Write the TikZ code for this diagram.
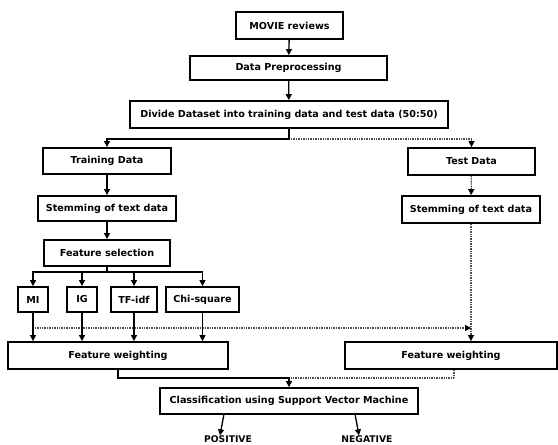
\documentclass[tikz,border=0pt]{standalone}
\usepackage{fontspec}
\setmainfont{DejaVu Sans}
\usetikzlibrary{arrows.meta}
\begin{document}
\begin{tikzpicture}[x=1pt,y=-1pt,
  box/.style={draw=black,line width=1.8pt,fill=white,inner sep=0pt,font=\bfseries\fontsize{9.6}{11}\selectfont},
  lbl/.style={inner sep=0pt,font=\bfseries\fontsize{9.2}{11}\selectfont},
  arr/.style={line width=1.3pt,-{Triangle[length=6pt,width=6pt]}},
  ln/.style={line width=1.3pt},
  dsh/.style={line width=1.3pt,draw=black!70,dash pattern=on 1pt off 0.7pt},
  darr/.style={dsh,-{Triangle[length=6pt,width=6pt,color=black,fill=black]}}]
\useasboundingbox (0,0) rectangle (558,445);
\node[box,minimum width=107,minimum height=27] (movie) at (289.5,25.5) {MOVIE reviews};
\node[box,minimum width=197,minimum height=24] (prep) at (288.5,68) {Data Preprocessing};
\node[box,minimum width=318,minimum height=27] (divide) at (289,114.5) {Divide Dataset into training data and test data (50:50)};
\node[box,minimum width=128,minimum height=26] (train) at (107,161) {Training Data};
\node[box,minimum width=127,minimum height=27] (test) at (471.5,161.5) {Test Data};
\node[box,minimum width=138,minimum height=25] (stemL) at (107,208.5) {Stemming of text data};
\node[box,minimum width=138,minimum height=27] (stemR) at (471,209.5) {Stemming of text data};
\node[box,minimum width=126,minimum height=26] (fsel) at (107,253) {Feature selection};
\node[box,minimum width=30,minimum height=25] (mi) at (33,299.5) {MI};
\node[box,minimum width=30,minimum height=25] (ig) at (82,299.5) {IG};
\node[box,minimum width=46,minimum height=25] (tf) at (134,299.5) {TF-idf};
\node[box,minimum width=73,minimum height=25] (chi) at (202.5,299.5) {Chi-square};
\node[box,minimum width=220,minimum height=27] (fwl) at (118,355.5) {Feature weighting};
\node[box,minimum width=212,minimum height=27] (fwr) at (451,355.5) {Feature weighting};
\node[box,minimum width=258,minimum height=26] (cls) at (289,401) {Classification using Support Vector Machine};
\node[lbl] (pos) at (228,439) {POSITIVE};
\node[lbl] (neg) at (367,439) {NEGATIVE};
\coordinate (split) at (289,139);
\coordinate (branch) at (107,272);
\coordinate (join) at (289,378);
% top chain
\draw[arr] (movie) -- (prep);
\draw[arr] (prep) -- (divide);
\draw[darr] (divide.south) -- (split) -| (test.north);
\draw[arr] (divide.south) -- (split) -| (train.north);
\draw[arr] (train) -- (stemL);
\draw[arr] (stemL) -- (fsel);
\draw[ln] (fsel.south) -- (branch);
\draw[arr] (branch) -| (mi.north);
\draw[arr] (branch) -| (ig.north);
\draw[arr] (branch) -| (tf.north);
\draw[arr] (branch) -| (chi.north);
% dashed right column
\draw[darr] (test) -- (stemR);
\draw[darr] (stemR.south) -- (stemR.south |- fwr.north);
\draw[darr] (mi.south |- 0,328) ++(2,0) coordinate (dstart) -- (stemR.south |- dstart);
% to feature weighting
\draw[arr] (mi.south) -- (mi.south |- fwl.north);
\draw[arr] (ig.south) -- (ig.south |- fwl.north);
\draw[arr] (tf.south) -- (tf.south |- fwl.north);
\draw[arr] (chi.south) -- (chi.south |- fwl.north);
% to classification
\draw[dsh] (fwr.south -| 454,0) |- (join);
\draw[arr] (fwl.south) |- (join) -- (cls.north);
\draw[arr] (224,414) -- (pos.north -| 220,0);
\draw[arr] (355,414) -- (neg.north -| 359,0);
\end{tikzpicture}
\end{document}
